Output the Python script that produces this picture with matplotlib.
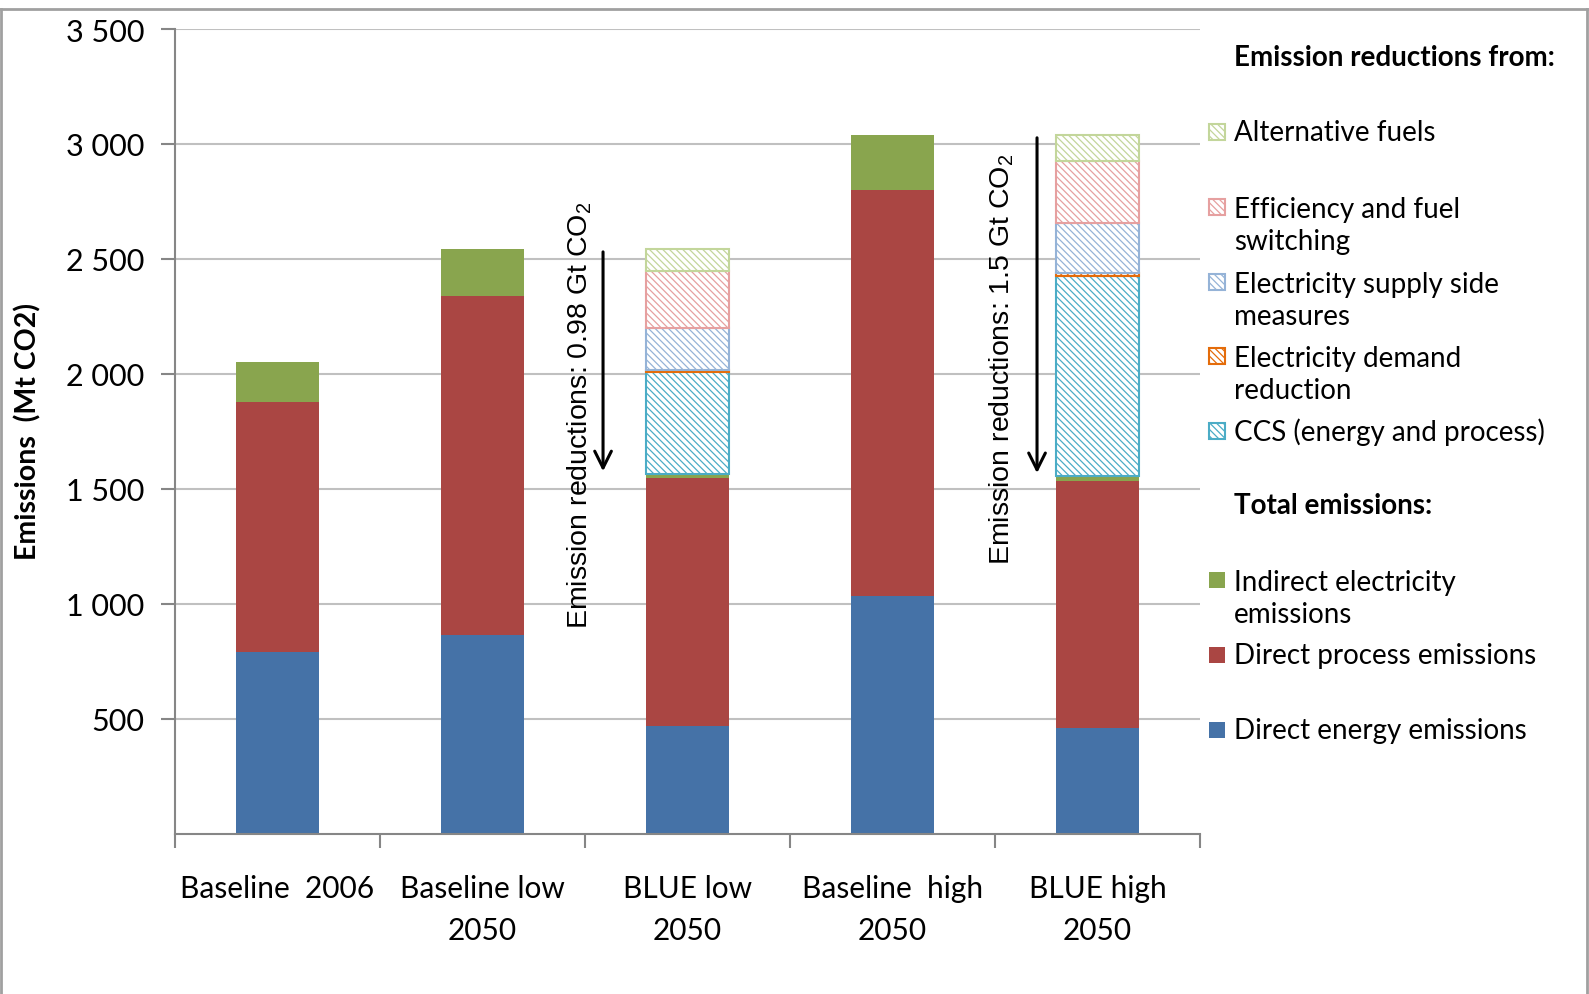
import matplotlib
matplotlib.use('Agg')
import matplotlib.pyplot as plt
import matplotlib.patches as patches
from matplotlib.lines import Line2D
import numpy as np

plt.rcParams['font.family'] = ['Lato', 'DejaVu Sans']
plt.rcParams['hatch.linewidth'] = 0.9
plt.rcParams['mathtext.fontset'] = 'custom'
plt.rcParams['mathtext.rm'] = 'Liberation Sans'

categories = ['Baseline  2006', 'Baseline low\n2050', 'BLUE low\n2050',
              'Baseline  high\n2050', 'BLUE high\n2050']

# Mt CO2
direct_energy = [790, 865, 470, 1035, 460]
direct_process = [1088, 1474, 1078, 1765, 1075]
indirect_elec = [174, 204, 17, 239, 22]
ccs = [0, 0, 444, 0, 869]
elec_demand = [0, 0, 8, 0, 13]
elec_supply = [0, 0, 183, 0, 218]
efficiency = [0, 0, 248, 0, 269]
alt_fuels = [0, 0, 95, 0, 113]

yticks = [500, 1000, 1500, 2000, 2500, 3000, 3500]

# (baseline bar, BLUE bar, label)
reductions = [(1, 2, 'Emission reductions: 0.98 Gt CO$_2$'),
              (3, 4, 'Emission reductions: 1.5 Gt CO$_2$')]
arrow_x = [1.588, 3.705]
text_dx = [-0.112, -0.171]

solid = [
    ('Direct energy emissions', direct_energy, '#4572A7'),
    ('Direct process emissions', direct_process, '#AA4643'),
    ('Indirect electricity\nemissions', indirect_elec, '#89A54E'),
]
hatched = [
    ('CCS (energy and process)', ccs, '#4BACC6'),
    ('Electricity demand\nreduction', elec_demand, '#E46C0A'),
    ('Electricity supply side\nmeasures', elec_supply, '#95B3D7'),
    ('Efficiency and fuel\nswitching', efficiency, '#E6A0A0'),
    ('Alternative fuels', alt_fuels, '#C3D69B'),
]
HATCH = '\\\\\\\\\\'

W, H = 1589, 995
fig = plt.figure(figsize=(W / 100, H / 100), dpi=100)
ax = fig.add_axes([175 / W, 1 - 835 / H, (1200 - 175) / W, (835 - 30) / H])

x = np.arange(len(categories))
width = 0.405
bottom = np.zeros(len(categories))
for name, vals, col in solid:
    ax.bar(x, vals, width, bottom=bottom, color=col, edgecolor='none', zorder=3)
    bottom += np.array(vals)
for name, vals, col in hatched:
    v = np.array(vals)
    m = v > 0
    ax.bar(x[m], v[m], width, bottom=bottom[m], facecolor='white', edgecolor=col,
           hatch=HATCH, linewidth=1.5, zorder=3)
    bottom += v

residual = np.array(direct_energy) + np.array(direct_process) + np.array(indirect_elec)
for (base_i, blue_i, label), axx, dx in zip(reductions, arrow_x, text_dx):
    top = bottom[base_i]
    low = residual[blue_i]
    ax.annotate('', xy=(axx, low), xytext=(axx, top),
                arrowprops=dict(arrowstyle='->', lw=2.2, color='black',
                                mutation_scale=30), zorder=5)
    ax.text(axx + dx, (top + low) / 2 - 228, label,
            rotation=90, ha='center', va='center', fontsize=20.5,
            family='Liberation Sans', zorder=5)

ax.set_xlim(-0.5, len(categories) - 0.5)
ax.set_ylim(0, 3500)
ax.set_yticks(yticks)
ax.set_yticklabels([f'{v:,}'.replace(',', ' ') for v in yticks], fontsize=22)
ax.set_xticks(x)
ax.set_xticklabels(categories, fontsize=21.5, linespacing=1.58)
ax.set_xticks(np.arange(len(categories) + 1) - 0.5, minor=True)
ax.tick_params(axis='x', which='major', length=0, pad=29)
ax.tick_params(axis='x', which='minor', length=10, width=1.5, color='#868686')
ax.tick_params(axis='y', length=10, width=1.5, color='#868686', pad=12)
ax.grid(axis='y', color='#C0C0C0', linewidth=1.5, zorder=0)
ax.set_axisbelow(True)
for s in ['top', 'right']:
    ax.spines[s].set_visible(False)
for s in ['left', 'bottom']:
    ax.spines[s].set_color('#868686')
    ax.spines[s].set_linewidth(1.5)
    ax.spines[s].set_zorder(4)

fig.text(28 / W, 1 - 432 / H, 'Emissions  (Mt CO2)', rotation=90, ha='center',
         va='center', fontsize=20.5, fontweight='bold')


# legend, drawn by hand in pixel coordinates
def legend_box(y, col, hatch):
    if hatch:
        r = patches.Rectangle((1209 / W, 1 - (y + 8) / H), 16 / W, 16 / H,
                              transform=fig.transFigure, facecolor='white',
                              edgecolor=col, hatch=HATCH, linewidth=1.5)
    else:
        r = patches.Rectangle((1209 / W, 1 - (y + 8) / H), 16 / W, 16 / H,
                              transform=fig.transFigure, facecolor=col,
                              edgecolor='none')
    fig.patches.append(r)


def legend_text(y, s, bold=False):
    fig.text(1234 / W, 1 - y / H, s, ha='left', va='center', fontsize=20,
             fontweight='bold' if bold else 'normal', linespacing=1.3)


legend_text(58, 'Emission reductions from:', bold=True)
hatch_rows = [133, 226, 301, 375, 432]
for (name, vals, col), y in zip(hatched[::-1], hatch_rows):
    legend_box(y - (18 if '\n' in name else 0), col, True)
    legend_text(y, name)
legend_text(506, 'Total emissions:', bold=True)
solid_rows = [599, 656, 731]
for (name, vals, col), y in zip(solid[::-1], solid_rows):
    legend_box(y - (18 if '\n' in name else 0), col, False)
    legend_text(y, name)

# outer frame
for xs, ys in [([1, 1], [995, 10]), ([1, 1587], [10, 10]), ([1587, 1587], [10, 995])]:
    fig.lines.append(Line2D([v / W for v in xs], [1 - v / H for v in ys],
                            transform=fig.transFigure, color='#A0A0A0', lw=2))

fig.savefig('out.png', dpi=100)
